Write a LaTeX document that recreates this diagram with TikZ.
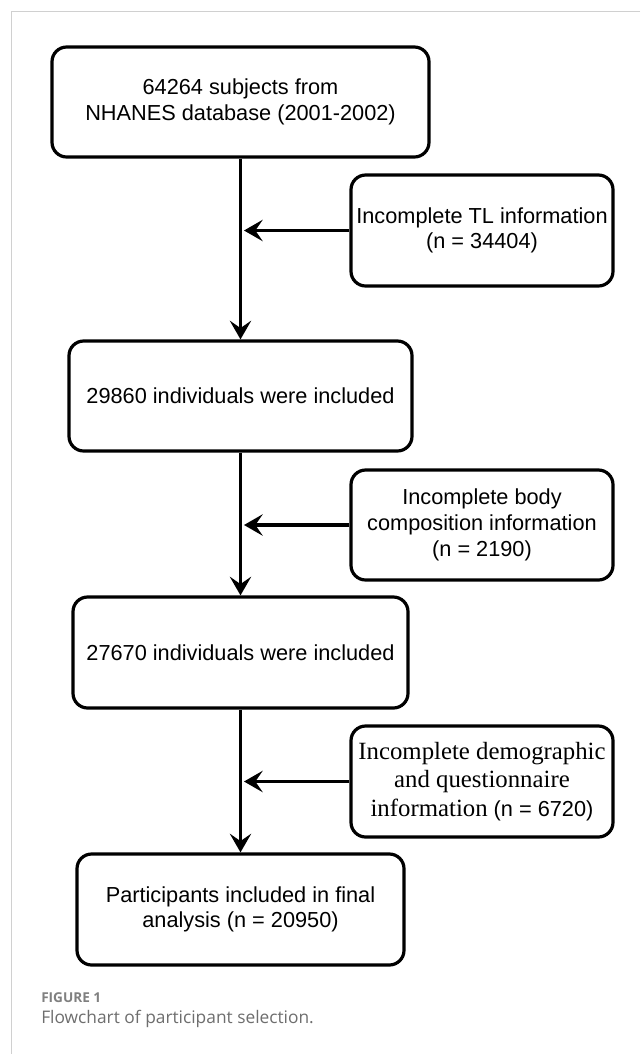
\documentclass[tikz,border=0pt]{standalone}
\usepackage{fontspec}
\setmainfont{Liberation Sans}
\newfontfamily\serifmix{Liberation Serif}
\newfontfamily\capfont{Open Sans}
\usetikzlibrary{arrows.meta}
\definecolor{framegray}{HTML}{D0D0D0}
\definecolor{capgray}{HTML}{808080}
\definecolor{captext}{HTML}{6E6E6E}
\tikzset{
  flowbox/.style={draw=black, line width=2.4pt, rounded corners=11pt, fill=white,
    align=center, inner sep=0pt, font=\fontsize{16.3}{19}\selectfont},
  flowarrow/.style={draw=black, line width=2.4pt,
    -{Stealth[length=14pt, width=16pt, inset=5.5pt]}},
}
\begin{document}
\begin{tikzpicture}[x=0.75pt, y=-0.75pt]
\useasboundingbox (0,0) rectangle (640,1054);
\fill[white] (0,0) rectangle (640,1054);
% page frame lines
\draw[framegray, line width=0.8pt] (640,11.7) -- (11.7,11.7) -- (11.7,1054);

% main boxes
\node[flowbox, minimum width=377*0.75pt, minimum height=110*0.75pt] (b1) at (240.5,102)
  {64264 subjects from\\NHANES database (2001-2002)};
\node[flowbox, minimum width=343*0.75pt, minimum height=110*0.75pt] (b2) at (240.5,396)
  {29860 individuals were included};
\node[flowbox, minimum width=335*0.75pt, minimum height=111*0.75pt] (b3) at (240.5,652.5)
  {27670 individuals were included};
\node[flowbox, minimum width=327*0.75pt, minimum height=111*0.75pt] (b4) at (240.5,909.5)
  {Participants included in final\\analysis (n = 20950)};

% exclusion boxes
\node[flowbox, minimum width=262*0.75pt, minimum height=111*0.75pt] (ea) at (482,230.5)
  {Incomplete TL information\\(n = 34404)};
\node[flowbox, minimum width=262*0.75pt, minimum height=110*0.75pt, font=\fontsize{16.3}{19.5}\selectfont] (eb) at (482,525)
  {Incomplete body\\composition information\\(n = 2190)};
\node[flowbox, minimum width=262*0.75pt, minimum height=111*0.75pt, font=\fontsize{16.3}{21.4}\selectfont] (ec) at (482,781.5)
  {{\serifmix\fontsize{18.6}{21.4}\selectfont Incomplete demographic}\\
   {\serifmix\fontsize{18.6}{21.4}\selectfont and questionnaire}\\
   {\serifmix\fontsize{18.6}{21.4}\selectfont information} (n = 6720)};

% junction points on the main line
\coordinate (ja) at (244,230.5);
\coordinate (jb) at (244,525);
\coordinate (jc) at (244,781.5);

% connectors
\draw[flowarrow] (b1) -- (b2);
\draw[flowarrow] (b2) -- (b3);
\draw[flowarrow] (b3) -- (b4);
\draw[flowarrow] (ea.west) -- (ja);
\draw[flowarrow] (eb.west) -- (jb);
\draw[flowarrow] (ec.west) -- (jc);

% caption
\node[anchor=west, inner sep=0pt, text=capgray, font=\capfont\bfseries\fontsize{10.2}{12}\selectfont] (fig) at (41,998) {FIGURE 1};
\node[anchor=west, inner sep=0pt, text=captext, font=\capfont\fontsize{13}{15}\selectfont] (cap) at (41,1018.5) {Flowchart of participant selection.};
\end{tikzpicture}
\end{document}
